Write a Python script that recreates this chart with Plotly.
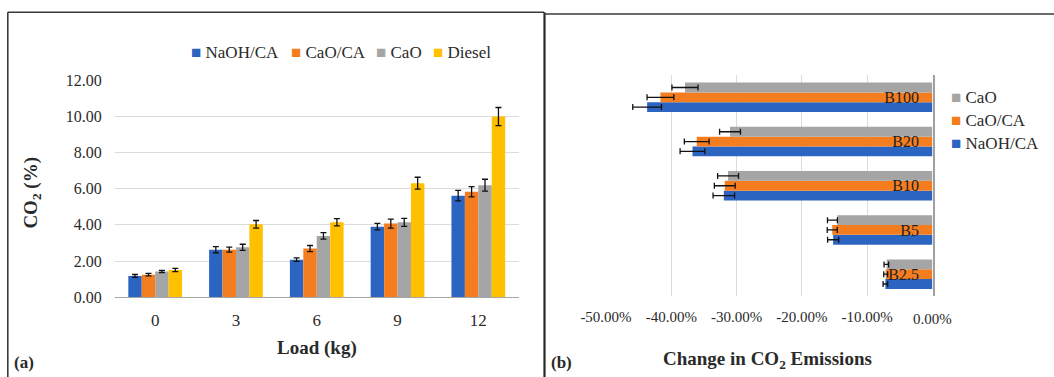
import plotly.graph_objects as go

# ---------------- data: panel (a) ----------------
loads = ["0", "3", "6", "9", "12"]
naoh_ca = [1.18, 2.63, 2.08, 3.90, 5.61]
cao_ca = [1.25, 2.63, 2.69, 4.07, 5.83]
cao = [1.42, 2.76, 3.39, 4.14, 6.19]
diesel = [1.51, 4.03, 4.14, 6.30, 9.98]
naoh_ca_err = [0.08, 0.17, 0.10, 0.18, 0.29]
cao_ca_err = [0.07, 0.14, 0.17, 0.25, 0.28]
cao_err = [0.06, 0.17, 0.18, 0.22, 0.33]
diesel_err = [0.09, 0.21, 0.20, 0.33, 0.50]
y_ticks_a = [0, 2, 4, 6, 8, 10, 12]

# ---------------- data: panel (b) ----------------
blends = ["B2.5", "B5", "B10", "B20", "B100"]
chg_naoh_ca = [-7.20, -15.20, -31.95, -36.75, -43.70]
chg_cao_ca = [-7.15, -15.34, -31.80, -36.10, -41.66]
chg_cao = [-7.00, -14.57, -31.30, -31.00, -37.90]
chg_naoh_ca_err = [0.35, 0.85, 1.65, 1.90, 2.20]
chg_cao_ca_err = [0.30, 0.77, 1.60, 1.90, 2.05]
chg_cao_err_plus = [0.30, 0.02, 1.60, 1.60, 2.00]
chg_cao_err_minus = [0.40, 1.50, 1.60, 1.60, 2.00]
x_ticks_b = [-50, -40, -30, -20, -10, 0]
x_ticktext_b = ["-50.00%", "-40.00%", "-30.00%", "-20.00%", "-10.00%", "0.00%"]

BLUE = "#2B65C1"
ORANGE = "#F47D20"
GRAY = "#A5A5A5"
YELLOW = "#FFC000"
FONT = "Liberation Serif"
TXT = "#2a2a2a"

W, H = 1054, 377


def px(x):
    return x / W


def py(y):
    return 1 - y / H


fig = go.Figure()

err_style = dict(type="data", color="#111111", thickness=1.3, width=3, visible=True)

for name, vals, errs, col in [
    ("NaOH/CA", naoh_ca, naoh_ca_err, BLUE),
    ("CaO/CA", cao_ca, cao_ca_err, ORANGE),
    ("CaO", cao, cao_err, GRAY),
    ("Diesel", diesel, diesel_err, YELLOW),
]:
    fig.add_trace(go.Bar(
        x=loads, y=vals, name=name, marker=dict(color=col, line=dict(width=0)),
        error_y=dict(array=errs, **err_style), xaxis="x", yaxis="y",
        showlegend=False,
    ))

for name, vals, ep, em, col in [
    ("NaOH/CA", chg_naoh_ca, chg_naoh_ca_err, chg_naoh_ca_err, BLUE),
    ("CaO/CA", chg_cao_ca, chg_cao_ca_err, chg_cao_ca_err, ORANGE),
    ("CaO", chg_cao, chg_cao_err_plus, chg_cao_err_minus, GRAY),
]:
    fig.add_trace(go.Bar(
        y=blends, x=vals, name=name, orientation="h",
        marker=dict(color=col, line=dict(width=0)),
        error_x=dict(array=ep, arrayminus=em, symmetric=False, **err_style),
        xaxis="x2", yaxis="y2", showlegend=False,
    ))

fig.update_layout(
    width=W, height=H,
    margin=dict(l=0, r=0, t=0, b=0, autoexpand=False),
    paper_bgcolor="white", plot_bgcolor="white",
    barmode="group", bargap=0.335, bargroupgap=0,
    font=dict(family=FONT, color=TXT, size=16),
    showlegend=False,
    xaxis=dict(
        domain=[px(114.8), px(518.7)], anchor="y", type="category", automargin=False,
        showgrid=False, showline=True, linecolor="#A6A6A6", linewidth=1.2,
        ticks="", ticklabelstandoff=7, tickfont=dict(size=17, family=FONT, color=TXT),
        zeroline=False,
    ),
    yaxis=dict(
        domain=[py(297.3), py(80)], anchor="x", range=[0, 12], automargin=False,
        tickvals=y_ticks_a, tickformat=".2f",
        showgrid=True, gridcolor="#DCDCDC", gridwidth=1.3,
        showline=False, zeroline=False, ticks="", ticklabelstandoff=12,
        tickfont=dict(size=16, family=FONT, color=TXT),
    ),
    xaxis2=dict(
        domain=[px(606), px(932.5)], anchor="y2", range=[-50, 0.02], automargin=False,
        tickvals=x_ticks_b[:-1], ticktext=x_ticktext_b[:-1],
        showgrid=True, gridcolor="#DCDCDC", gridwidth=1.2,
        showline=False, zeroline=False, ticks="", ticklabelstandoff=10,
        tickfont=dict(size=15, family=FONT, color=TXT),
    ),
    yaxis2=dict(
        domain=[py(296.3), py(75.2)], anchor="x2", type="category", automargin=False,
        side="right", ticklabelposition="inside", ticklabelstandoff=14,
        showline=True, linecolor="#A0A0A0", linewidth=1.5,
        showgrid=False, ticks="", tickfont=dict(size=16, family=FONT, color="#222222"),
    ),
)

ann = []
# last tick label of panel (b) x axis (hidden by plotly next to the inside y labels)
ann.append(dict(x=x_ticks_b[-1], xref="x2", y=py(318.5), yref="paper",
                xanchor="center", yanchor="middle", showarrow=False,
                text=x_ticktext_b[-1], font=dict(size=15, family=FONT, color=TXT)))
# legend (a)
for label, col, x0 in [("NaOH/CA", BLUE, 189), ("CaO/CA", ORANGE, 289),
                       ("CaO", GRAY, 374), ("Diesel", YELLOW, 431.5)]:
    ann.append(dict(x=px(x0), y=py(52.5), xref="paper", yref="paper",
                    xanchor="left", yanchor="middle", showarrow=False,
                    text=f"<span style='color:{col}'>■</span> {label}",
                    font=dict(size=17, family=FONT, color=TXT)))
# legend (b)
for label, col, yy in [("CaO", GRAY, 97.7), ("CaO/CA", ORANGE, 120.5), ("NaOH/CA", BLUE, 143.5)]:
    ann.append(dict(x=px(949), y=py(yy), xref="paper", yref="paper",
                    xanchor="left", yanchor="middle", showarrow=False,
                    text=f"<span style='color:{col}'>■</span> {label}",
                    font=dict(size=17, family=FONT, color=TXT)))
# axis titles and panel labels
ann += [
    dict(x=px(31.6), y=py(193), xref="paper", yref="paper", textangle=-90,
         xanchor="center", yanchor="middle",
         showarrow=False, text="<b>CO<sub>2</sub> (%)</b>",
         font=dict(size=19, family=FONT, color=TXT)),
    dict(x=px(316.6), y=py(348), xref="paper", yref="paper", showarrow=False,
         xanchor="center", yanchor="middle",
         text="<b>Load (kg)</b>", font=dict(size=19, family=FONT, color=TXT)),
    dict(x=px(767.5), y=py(360), xref="paper", yref="paper", showarrow=False,
         xanchor="center", yanchor="middle",
         text="<b>Change in CO<sub>2</sub> Emissions</b>",
         font=dict(size=19, family=FONT, color=TXT)),
    dict(x=px(12), y=py(362), xref="paper", yref="paper", xanchor="left", yanchor="middle",
         showarrow=False, text="<b>(a)</b>", font=dict(size=17, family=FONT, color=TXT)),
    dict(x=px(549), y=py(362), xref="paper", yref="paper", xanchor="left", yanchor="middle",
         showarrow=False, text="<b>(b)</b>", font=dict(size=17, family=FONT, color=TXT)),
]
fig.update_layout(annotations=ann)

# panel frames
line = dict(color="#3a3a3a", width=1.6)
fig.update_layout(shapes=[
    dict(type="line", xref="paper", yref="paper", x0=px(7.8), x1=px(7.8), y0=0, y1=py(12.3), line=line),
    dict(type="line", xref="paper", yref="paper", x0=px(7.8), x1=px(544), y0=py(12.3), y1=py(12.3), line=line),
    dict(type="line", xref="paper", yref="paper", x0=px(544.5), x1=px(544.5), y0=0, y1=py(12.3), line=dict(color="#2a2a2a", width=2.2)),
    dict(type="line", xref="paper", yref="paper", x0=px(544.5), x1=1, y0=py(14), y1=py(14), line=line),
])

fig.write_html(
    "out.html",
    config={"displayModeBar": False},
    post_script="document.body.style.margin='0';document.body.style.padding='0';document.body.style.overflow='hidden';",
)
